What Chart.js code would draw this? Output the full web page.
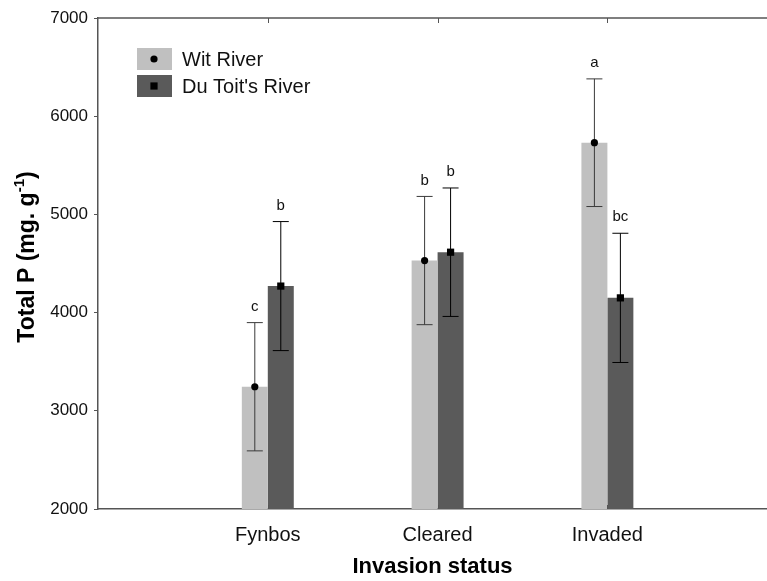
<!DOCTYPE html>
<html>
<head>
<meta charset="utf-8">
<script src="https://cdn.jsdelivr.net/npm/chart.js@4/dist/chart.umd.min.js"></script>
<style>
  html, body { margin: 0; padding: 0; background: #fff; }
  #c { display: block; }
</style>
</head>
<body>
<canvas id="c" width="767" height="581"></canvas>
<script>
// Total P by invasion status for two rivers (mean ± error)
const categories = ['Fynbos', 'Cleared', 'Invaded'];
const seriesNames = ['Wit River', "Du Toit's River"];
const witMean = [3245, 4530, 5730];
const witErr = [653, 653, 650];
const duToitMean = [4270, 4615, 4150];
const duToitErr = [657, 654, 658];
const witLetters = ['c', 'b', 'a'];
const duToitLetters = ['b', 'b', 'bc'];
const yTicks = [2000, 3000, 4000, 5000, 6000, 7000];

const FONT = '"Liberation Sans", Arial, Helvetica, sans-serif';
const frameColor = '#555555';
Chart.defaults.font.family = FONT;

const decor = {
  id: 'decor',
  afterDatasetsDraw(chart) {
    const { ctx, scales: { y } } = chart;
    chart.data.datasets.forEach((ds, di) => {
      const meta = chart.getDatasetMeta(di);
      meta.data.forEach((bar, i) => {
        const cx = bar.x;
        const m = ds.data[i].y, e = ds.errors[i];
        const yt = y.getPixelForValue(m + e);
        const yb = y.getPixelForValue(m - e);
        const ym = y.getPixelForValue(m);
        ctx.save();
        ctx.strokeStyle = ds.errColor;
        ctx.lineWidth = 1;
        ctx.beginPath();
        ctx.moveTo(cx, yt); ctx.lineTo(cx, yb);
        ctx.moveTo(cx - 8, yt); ctx.lineTo(cx + 8, yt);
        ctx.moveTo(cx - 8, yb); ctx.lineTo(cx + 8, yb);
        ctx.stroke();
        ctx.fillStyle = '#000';
        if (ds.marker === 'circle') {
          ctx.beginPath(); ctx.arc(cx, ym, 3.6, 0, Math.PI * 2); ctx.fill();
        } else {
          ctx.fillRect(cx - 3.6, ym - 3.6, 7.2, 7.2);
        }
        ctx.font = '15px ' + FONT;
        ctx.fillStyle = '#111';
        ctx.textAlign = 'center';
        ctx.textBaseline = 'middle';
        ctx.fillText(ds.letters[i], cx, yt - 16);
        ctx.restore();
      });
    });
  },
  afterDraw(chart) {
    const { ctx, chartArea: a, scales: { x } } = chart;
    ctx.save();
    // top frame line with inward ticks, plus inward ticks on the bottom axis
    ctx.strokeStyle = frameColor;
    ctx.lineWidth = 1.5;
    ctx.beginPath();
    ctx.moveTo(a.left, a.top); ctx.lineTo(a.right, a.top);
    ctx.stroke();
    ctx.lineWidth = 1;
    ctx.beginPath();
    categories.forEach((c, i) => {
      const px = Math.round(x.getPixelForValue(i + 1)) + 0.5;
      ctx.moveTo(px, a.top); ctx.lineTo(px, a.top + 5);
      ctx.moveTo(px, a.bottom); ctx.lineTo(px, a.bottom - 4);
    });
    ctx.stroke();

    // legend
    const rows = [48, 75];
    chart.data.datasets.forEach((ds, di) => {
      const by = rows[di];
      ctx.fillStyle = ds.backgroundColor;
      ctx.fillRect(137, by, 35, 22);
      ctx.fillStyle = '#000';
      const cx = 154, cy = by + 11;
      if (ds.marker === 'circle') {
        ctx.beginPath(); ctx.arc(cx, cy, 3.6, 0, Math.PI * 2); ctx.fill();
      } else {
        ctx.fillRect(cx - 3.6, cy - 3.6, 7.2, 7.2);
      }
      ctx.font = '20px ' + FONT;
      ctx.fillStyle = '#111';
      ctx.textAlign = 'left';
      ctx.textBaseline = 'middle';
      ctx.fillText(ds.label, 182, cy + 1);
    });

    // y axis title with superscript
    ctx.translate(34, 257);
    ctx.rotate(-Math.PI / 2);
    ctx.fillStyle = '#000';
    ctx.textBaseline = 'alphabetic';
    ctx.textAlign = 'left';
    const main = 'Total P (mg. g', sup = '-1', tail = ')';
    ctx.font = 'bold 23px ' + FONT;
    const w1 = ctx.measureText(main).width;
    const w3 = ctx.measureText(tail).width;
    ctx.font = 'bold 15px ' + FONT;
    const w2 = ctx.measureText(sup).width;
    let x0 = -(w1 + w2 + w3) / 2;
    ctx.font = 'bold 23px ' + FONT;
    ctx.fillText(main, x0, 0);
    ctx.font = 'bold 15px ' + FONT;
    ctx.fillText(sup, x0 + w1, -10);
    ctx.font = 'bold 23px ' + FONT;
    ctx.fillText(tail, x0 + w1 + w2, 0);
    ctx.restore();
  }
};

new Chart(document.getElementById('c'), {
  type: 'bar',
  data: {
    datasets: [
      {
        label: seriesNames[0],
        data: categories.map((c, i) => ({ x: i + 1, y: witMean[i] })),
        backgroundColor: '#c0c0c0',
        errors: witErr, letters: witLetters, errColor: '#3a3a3a', marker: 'circle'
      },
      {
        label: seriesNames[1],
        data: categories.map((c, i) => ({ x: i + 1, y: duToitMean[i] })),
        backgroundColor: '#5a5a5a',
        errors: duToitErr, letters: duToitLetters, errColor: '#000000', marker: 'square'
      }
    ]
  },
  options: {
    responsive: false,
    animation: false,
    devicePixelRatio: 1,
    layout: { padding: { top: 18, right: 0, left: 0, bottom: 0 } },
    plugins: { legend: { display: false }, tooltip: { enabled: false } },
    datasets: { bar: { categoryPercentage: 0.306, barPercentage: 1 } },
    scales: {
      x: {
        type: 'linear', min: 0, max: 3.94, offset: false,
        afterBuildTicks: s => { s.ticks = categories.map((c, i) => ({ value: i + 1 })); },
        afterFit: s => { s.height = 72; },
        ticks: {
          callback: v => categories[v - 1] ?? '',
          font: { size: 20 }, color: '#111', padding: 6, maxRotation: 0, autoSkip: false
        },
        grid: { display: false },
        border: { display: true, color: frameColor, width: 1.5 },
        title: {
          display: true, text: 'Invasion status', color: '#000',
          font: { size: 22, weight: 'bold' }, padding: { top: 0, bottom: 1 }
        }
      },
      y: {
        min: 2000, max: 7000,
        afterBuildTicks: s => { s.ticks = yTicks.map(v => ({ value: v })); },
        afterFit: s => { s.width = 98; },
        ticks: { callback: v => String(v), font: { size: 17 }, color: '#111', padding: 6 },
        grid: { drawOnChartArea: false, drawTicks: true, tickLength: 4, color: frameColor },
        border: { display: true, color: frameColor, width: 1.5 }
      }
    }
  },
  plugins: [decor]
});
</script>
</body>
</html>
